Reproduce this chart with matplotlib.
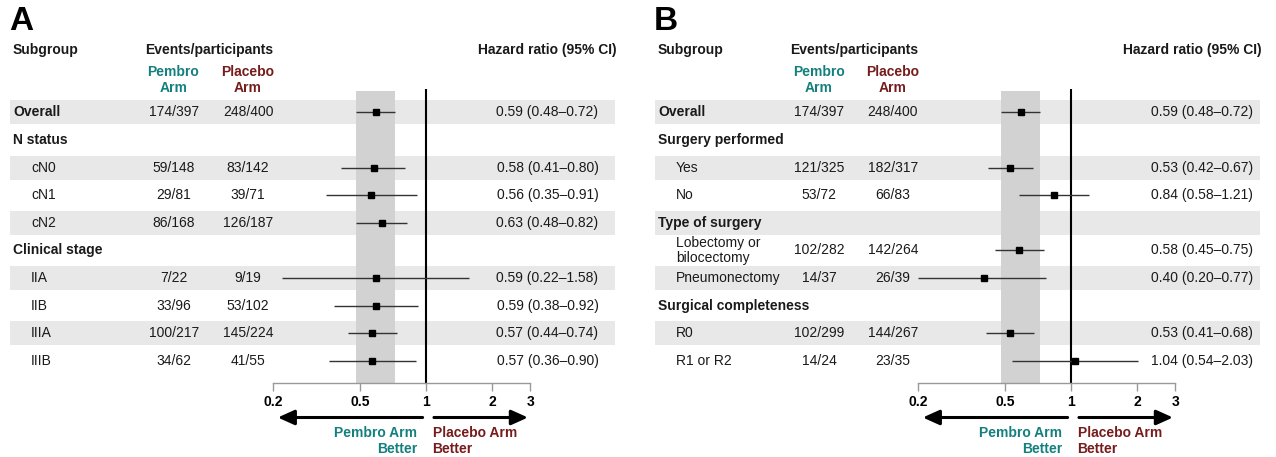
import numpy as np
import matplotlib
matplotlib.use("Agg")
import matplotlib.pyplot as plt
from matplotlib import transforms

plt.rcParams['font.family'] = ['Liberation Sans', 'DejaVu Sans']

nan = np.nan
# ---------------- data ----------------
A_labels = ["Overall", "N status", "cN0", "cN1", "cN2", "Clinical stage",
            "IIA", "IIB", "IIIA", "IIIB"]
A_header = [True, True, False, False, False, True, False, False, False, False]
A_pembro = ["174/397", "", "59/148", "29/81", "86/168", "", "7/22", "33/96", "100/217", "34/62"]
A_placebo = ["248/400", "", "83/142", "39/71", "126/187", "", "9/19", "53/102", "145/224", "41/55"]
A_hr = [0.59, nan, 0.58, 0.56, 0.63, nan, 0.59, 0.59, 0.57, 0.57]
A_lo = [0.48, nan, 0.41, 0.35, 0.48, nan, 0.22, 0.38, 0.44, 0.36]
A_hi = [0.72, nan, 0.80, 0.91, 0.82, nan, 1.58, 0.92, 0.74, 0.90]

B_labels = ["Overall", "Surgery performed", "Yes", "No", "Type of surgery",
            "Lobectomy or\nbilocectomy", "Pneumonectomy", "Surgical completeness",
            "R0", "R1 or R2"]
B_header = [True, True, False, False, True, False, False, True, False, False]
B_pembro = ["174/397", "", "121/325", "53/72", "", "102/282", "14/37", "", "102/299", "14/24"]
B_placebo = ["248/400", "", "182/317", "66/83", "", "142/264", "26/39", "", "144/267", "23/35"]
B_hr = [0.59, nan, 0.53, 0.84, nan, 0.58, 0.40, nan, 0.53, 1.04]
B_lo = [0.48, nan, 0.42, 0.58, nan, 0.45, 0.20, nan, 0.41, 0.54]
B_hi = [0.72, nan, 0.67, 1.21, nan, 0.75, 0.77, nan, 0.68, 2.03]

overall_band = (0.48, 0.72)
xticks = [0.2, 0.5, 1, 2, 3]
xticklabels = ["0.2", "0.5", "1", "2", "3"]

TEAL = "#13807e"
DRED = "#761c1c"
ROWGRAY = "#e8e8e8"
BANDGRAY = "#d2d2d2"
TXT = "#1a1a1a"

W, H = 1276, 457
fig = plt.figure(figsize=(W / 100, H / 100), dpi=100)
bg = fig.add_axes([0, 0, 1, 1])
bg.set_xlim(0, W)
bg.set_ylim(H, 0)
bg.axis("off")

ROW0, DROW = 112.3, 27.63


def row_y(i):
    return ROW0 + DROW * i


FS = 10


def panel(off, letter, labels, header, pembro, placebo, hr, lo, hi, hr_right, hdr_right):
    n = len(labels)
    # row bands
    for i in range(n):
        if i % 2 == 0:
            y = row_y(i)
            bg.fill_between([10 + off, 615 + off], y - 12, y + 12, color=ROWGRAY, lw=0, zorder=0)
    bg.text(9 + off, 21, letter, fontsize=24, fontweight="bold", va="center", ha="left")
    bg.text(13 + off, 50, "Subgroup", fontsize=FS, fontweight="bold", va="center", ha="left", color=TXT)
    bg.text(209.5 + off, 50, "Events/participants", fontsize=FS, fontweight="bold", va="center",
            ha="center", color=TXT)
    bg.text(173.5 + off, 80, "Pembro\nArm", fontsize=FS, fontweight="bold", va="center", ha="center",
            color=TEAL, linespacing=1.1)
    bg.text(248 + off, 80, "Placebo\nArm", fontsize=FS, fontweight="bold", va="center", ha="center",
            color=DRED, linespacing=1.1)
    bg.text(hdr_right, 50, "Hazard ratio (95% CI)", fontsize=FS, fontweight="bold", va="center",
            ha="right", color=TXT)
    for i in range(n):
        y = row_y(i)
        if header[i]:
            bg.text(13 + off, y, labels[i], fontsize=FS, fontweight="bold", va="center", ha="left",
                    color=TXT)
        else:
            bg.text(31 + off, y, labels[i], fontsize=FS, va="center", ha="left", linespacing=1.1,
                    color=TXT)
        if pembro[i]:
            bg.text(174 + off, y, pembro[i], fontsize=FS, va="center", ha="center", color=TXT)
            bg.text(248 + off, y, placebo[i], fontsize=FS, va="center", ha="center", color=TXT)
        if not np.isnan(hr[i]):
            bg.text(hr_right, y, f"{hr[i]:.2f} ({lo[i]:.2f}\u2013{hi[i]:.2f})", fontsize=FS,
                    va="center", ha="right", color=TXT)

    # forest axes
    x0 = 272.7 + off
    dec = 219.2
    x1 = x0 + dec * np.log10(3 / 0.2)
    top, bot = 89, 383
    ax = fig.add_axes([x0 / W, (H - bot) / H, (x1 - x0) / W, (bot - top) / H])
    ax.set_facecolor("none")
    ax.set_xscale("log")
    ax.set_xlim(0.2, 3)
    ax.set_ylim((bot - ROW0) / DROW, (top - ROW0) / DROW)
    for s in ["top", "right", "left"]:
        ax.spines[s].set_visible(False)
    ax.spines["bottom"].set_color("#999999")
    ax.spines["bottom"].set_linewidth(1)
    ax.set_yticks([])
    ax.set_xticks(xticks)
    ax.set_xticklabels(xticklabels, fontweight="bold", fontsize=FS)
    ax.minorticks_off()
    ax.tick_params(axis="x", length=6, color="#999999", width=1, pad=3)
    ax.axvspan(overall_band[0], overall_band[1], ymin=0, ymax=(bot - 91) / (bot - top),
               color=BANDGRAY, lw=0, zorder=0)
    ax.axvline(1, color="black", lw=1.5, zorder=2)
    ys = np.arange(n)
    hr_a, lo_a, hi_a = np.array(hr), np.array(lo), np.array(hi)
    m = ~np.isnan(hr_a)
    ax.hlines(ys[m], lo_a[m], hi_a[m], color="#333333", lw=1, zorder=3)
    ax.plot(hr_a[m], ys[m], "s", color="black", ms=5, zorder=4)

    # arrows and labels
    tr = transforms.blended_transform_factory(ax.transData, bg.transData)
    ay = 417.5
    ax.annotate("", xy=(0.211, ay), xytext=(0.966, ay), xycoords=tr, textcoords=tr,
                arrowprops=dict(arrowstyle="-|>,head_length=1.0,head_width=0.45", lw=2.2,
                                color="black", shrinkA=0, shrinkB=0), annotation_clip=False)
    ax.annotate("", xy=(2.92, ay), xytext=(1.088, ay), xycoords=tr, textcoords=tr,
                arrowprops=dict(arrowstyle="-|>,head_length=1.0,head_width=0.45", lw=2.2,
                                color="black", shrinkA=0, shrinkB=0), annotation_clip=False)
    ax.text(0.91, 441, "Pembro Arm\nBetter", transform=tr, ha="right", va="center",
            fontsize=FS, fontweight="bold", color=TEAL, linespacing=1.2)
    ax.text(1.072, 441, "Placebo Arm\nBetter", transform=tr, ha="left", va="center",
            fontsize=FS, fontweight="bold", color=DRED, linespacing=1.2)
    return ax


panel(0, "A", A_labels, A_header, A_pembro, A_placebo, A_hr, A_lo, A_hi, 598.5, 617)
panel(645, "B", B_labels, B_header, B_pembro, B_placebo, B_hr, B_lo, B_hi, 1253, 1262)

fig.savefig("out.png", dpi=100)
